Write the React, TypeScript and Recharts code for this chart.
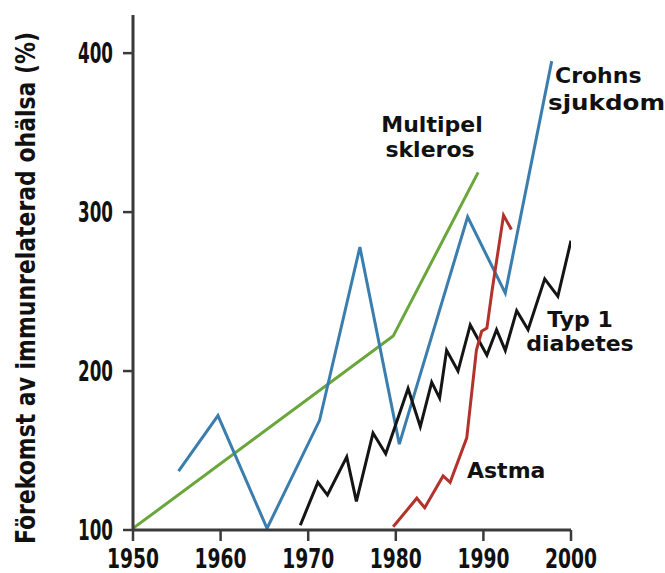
import React from "react";
import { LineChart, Line, XAxis, YAxis } from "recharts";

const xTicks = [1950, 1960, 1970, 1980, 1990, 2000];
const yTicks = [100, 200, 300, 400];

const msYears = [1950, 1979.7, 1989.4];
const msValues = [101, 222, 325];

const crohnYears = [1955.2, 1959.7, 1965.3, 1971.3, 1975.9, 1980.4, 1988.2, 1992.5, 1997.8];
const crohnValues = [137, 172, 101, 169, 278, 154, 297, 249, 395];

const diabYears = [1969.1, 1971.1, 1972.2, 1974.4, 1975.5, 1977.4, 1978.85, 1981.4, 1982.8, 1984.1, 1985.0, 1985.8, 1987.1, 1988.5, 1990.4, 1991.5, 1992.5, 1993.8, 1995.1, 1997.0, 1998.5, 2000];
const diabValues = [103, 130, 122, 146, 118, 161, 148, 189, 165, 193, 183, 213, 200, 229, 210, 226, 213, 238, 226, 258, 247, 282];

const astmaYears = [1979.7, 1982.4, 1983.3, 1985.4, 1986.2, 1988.1, 1989.2, 1989.8, 1990.4, 1991.0, 1992.3, 1993.2];
const astmaValues = [102, 120, 114, 134, 130, 158, 213, 225, 227, 251, 298, 289];

const toData = (xs: number[], vs: number[]) => xs.map((year, i) => ({ year, v: vs[i] }));

const msData = toData(msYears, msValues);
const crohnData = toData(crohnYears, crohnValues);
const diabData = toData(diabYears, diabValues);
const astmaData = toData(astmaYears, astmaValues);

const axisFont = "'DejaVu Sans Condensed', 'DejaVu Sans', sans-serif";
const labelFont = "'DejaVu Sans', Verdana, sans-serif";
const axisColor = "#3a3a3a";

const XTick = (props: any) => {
  const { x, y, payload } = props;
  return (
    <text
      x={x}
      y={y}
      dy={21}
      textAnchor="middle"
      fontFamily={axisFont}
      fontWeight="bold"
      fontSize={27}
      fill="#111"
      textLength={52}
      lengthAdjust="spacingAndGlyphs"
    >
      {payload.value}
    </text>
  );
};

const YTick = (props: any) => {
  const { x, y, payload } = props;
  return (
    <text
      x={x}
      y={y}
      dy={10}
      textAnchor="end"
      fontFamily={axisFont}
      fontWeight="bold"
      fontSize={28}
      fill="#111"
      textLength={35}
      lengthAdjust="spacingAndGlyphs"
    >
      {payload.value}
    </text>
  );
};

export default function App() {
  return (
    <div style={{ position: "absolute", left: 0, top: 0, width: 665, height: 573, background: "#fff" }}>
      <LineChart width={665} height={573} margin={{ top: 15, right: 94, bottom: 0, left: 0 }}>
        <XAxis
          type="number"
          dataKey="year"
          domain={[1950, 2000]}
          ticks={xTicks}
          allowDataOverflow
          height={43}
          tickSize={11}
          tickMargin={6}
          tick={<XTick />}
          axisLine={{ stroke: axisColor, strokeWidth: 3 }}
          tickLine={{ stroke: axisColor, strokeWidth: 2.5 }}
        />
        <YAxis
          type="number"
          domain={[100, 424]}
          ticks={yTicks}
          allowDataOverflow
          width={133}
          tickSize={10}
          tickMargin={10}
          tick={<YTick />}
          axisLine={{ stroke: axisColor, strokeWidth: 3 }}
          tickLine={{ stroke: axisColor, strokeWidth: 2.5 }}
        />
        <Line data={msData} dataKey="v" stroke="#6aa63c" strokeWidth={3} dot={false} isAnimationActive={false} />
        <Line data={crohnData} dataKey="v" stroke="#3b7eae" strokeWidth={3} dot={false} isAnimationActive={false} />
        <Line data={diabData} dataKey="v" stroke="#141414" strokeWidth={3} dot={false} isAnimationActive={false} />
        <Line data={astmaData} dataKey="v" stroke="#b2332c" strokeWidth={3} dot={false} isAnimationActive={false} />
      </LineChart>
      <svg width={665} height={573} style={{ position: "absolute", left: 0, top: 0, pointerEvents: "none" }}>
        <text
          x={0}
          y={0}
          transform="translate(35 288) rotate(-90) scale(1 1.12)"
          textAnchor="middle"
          fontFamily={axisFont}
          fontWeight="bold"
          fontSize={23}
          fill="#111"
          textLength={512}
          lengthAdjust="spacingAndGlyphs"
        >
          Förekomst av immunrelaterad ohälsa (%)
        </text>
        <g fontFamily={labelFont} fontWeight="bold" fontSize={22} fill="#111">
          <text x={555} y={83}>Crohns</text>
          <text x={548} y={110} textLength={117} lengthAdjust="spacingAndGlyphs">sjukdom</text>
          <text x={432} y={132} textAnchor="middle">Multipel</text>
          <text x={430} y={157} textAnchor="middle">skleros</text>
          <text x={580} y={327} textAnchor="middle">Typ 1</text>
          <text x={580} y={351} textAnchor="middle">diabetes</text>
          <text x={467} y={478}>Astma</text>
        </g>
      </svg>
    </div>
  );
}
